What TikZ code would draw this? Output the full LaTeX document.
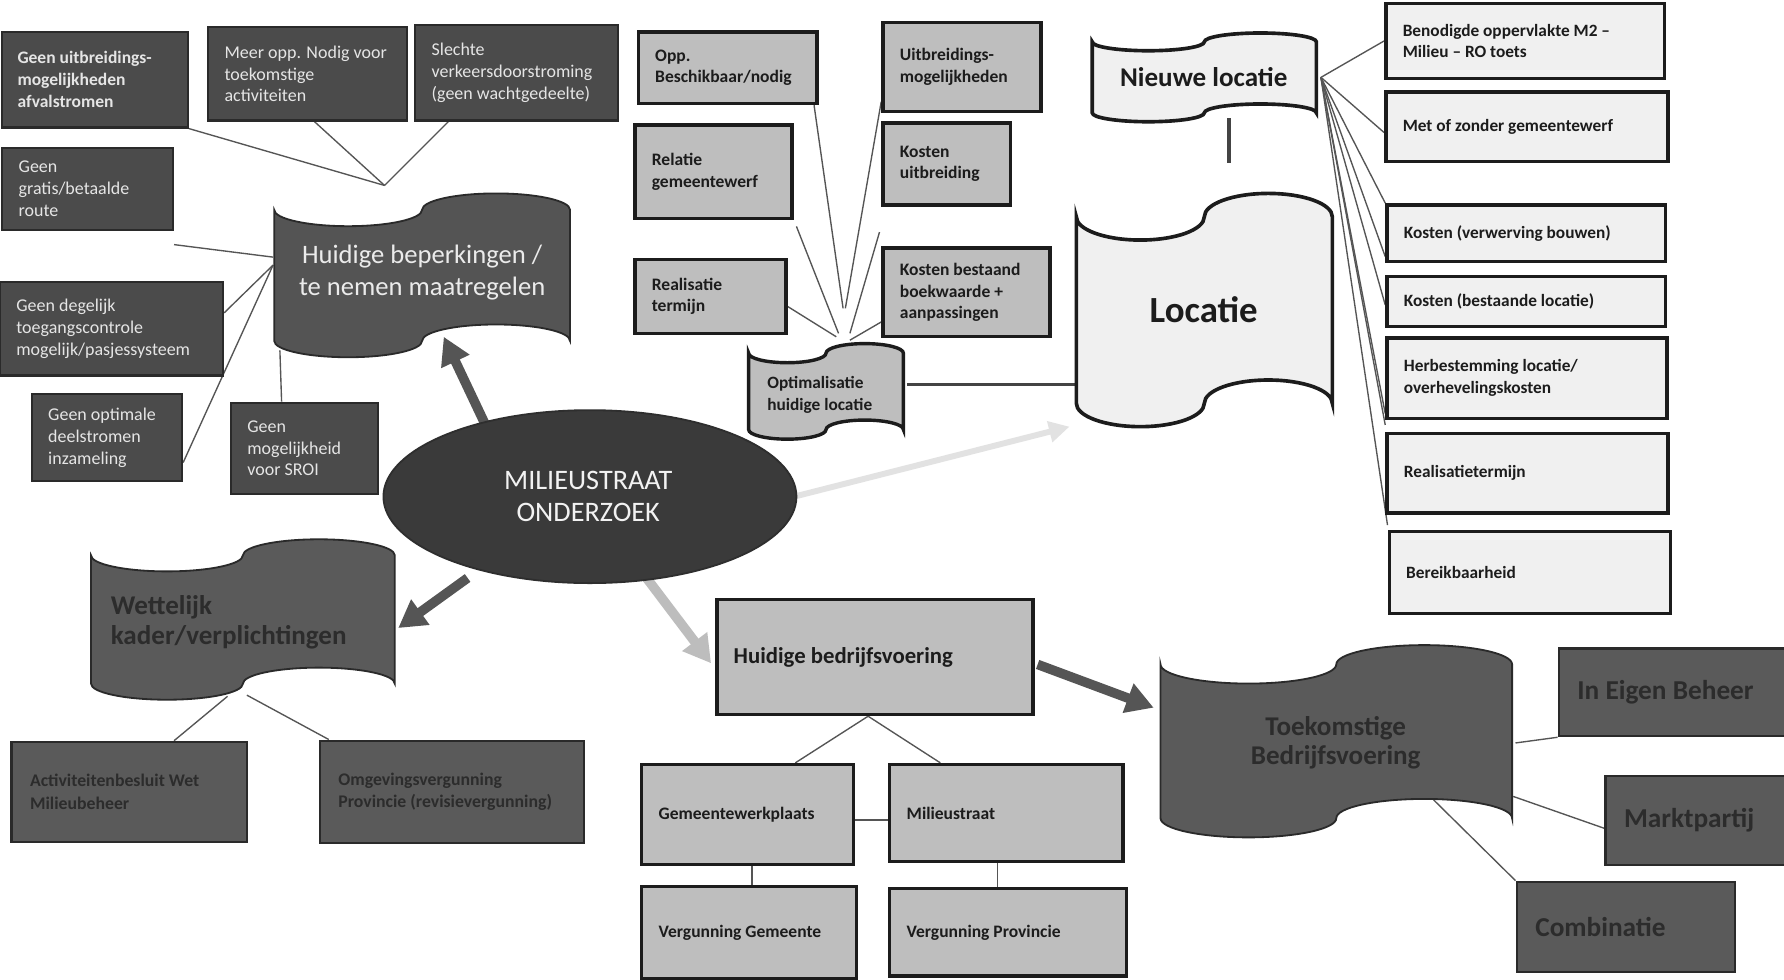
\documentclass[tikz,border=0pt]{standalone}
\usepackage{fontspec}
\setmainfont{Carlito}
\usetikzlibrary{arrows.meta,shapes.geometric}
\pgfdeclarelayer{bg}
\pgfsetlayers{bg,main}
\definecolor{dboxfill}{HTML}{4B4B4B}
\definecolor{dboxdraw}{HTML}{2A2A2A}
\definecolor{hbfill}{HTML}{545454}
\definecolor{ellfill}{HTML}{3A3A3A}
\definecolor{midfill}{HTML}{5A5A5A}
\definecolor{midtext}{HTML}{2C2C2C}
\definecolor{lfill}{HTML}{BEBEBE}
\definecolor{vlfill}{HTML}{F0F0F0}
\definecolor{ink}{HTML}{1C1C1C}
\definecolor{conncol}{HTML}{555555}
\definecolor{arrdark}{HTML}{555555}
\definecolor{arrlight}{HTML}{BDBDBD}
\definecolor{arrvlight}{HTML}{E2E2E2}

\newcommand\bx[7]{%
  \pgfmathsetmacro\mybw{(#4-#2)*0.5}%
  \pgfmathsetmacro\mybh{(#5-#3)*0.5}%
  \node[#6, minimum width=\mybw pt, minimum height=\mybh pt, inner sep=0pt] (#1) at ({(#2+#4)/2},{(#3+#5)/2}) {};%
  \node[#6txt, anchor=west, inner sep=0pt] (#1t) at (#1.west) {#7};}

\newcommand\tape[6]{%
  \pgfmathsetmacro\tqw{(#4-#2)/8}%
  \pgfmathsetmacro\tqh{(#5-#3)/20}%
  \pgfmathsetmacro\tya{#3+(#5-#3)/10}%
  \pgfmathsetmacro\tyb{#5-(#5-#3)/10}%
  \path[#6] (#2,\tya) arc[start angle=180,end angle=360,x radius=\tqw pt,y radius=\tqh pt]
    arc[start angle=180,end angle=0,x radius=\tqw pt,y radius=\tqh pt]
    -- (#4,\tyb) arc[start angle=0,end angle=180,x radius=\tqw pt,y radius=\tqh pt]
    arc[start angle=0,end angle=-180,x radius=\tqw pt,y radius=\tqh pt] -- cycle;
  \coordinate (#1) at ({(#2+#4)/2},{(#3+#5)/2});}

\tikzset{
  dbox/.style={draw=dboxdraw, line width=1pt, fill=dboxfill},
  dboxb/.style={dbox},
  dboxtxt/.style={text=white!90!black, font=\fontsize{7.9}{9.6}\selectfont, align=left, xshift=7.5pt},
  dboxbtxt/.style={text=white!90!black, font=\fontsize{7.7}{9.6}\selectfont\bfseries, align=left, xshift=7pt},
  lbox/.style={draw=ink, line width=1.5pt, fill=lfill},
  lboxtxt/.style={text=ink, font=\fontsize{7.7}{9.6}\selectfont\bfseries, align=left, xshift=8pt},
  lboxbig/.style={lbox},
  lboxbigtxt/.style={lboxtxt, font=\fontsize{10}{12}\selectfont\bfseries},
  lboxm/.style={lbox},
  lboxmtxt/.style={lboxtxt},
  rbox/.style={draw=ink, line width=1.5pt, fill=vlfill},
  rboxtxt/.style={text=ink, font=\fontsize{7.6}{9.6}\selectfont\bfseries, align=left, xshift=8pt},
  gbox/.style={draw=dboxdraw, line width=1pt, fill=midfill},
  gboxtxt/.style={text=midtext, font=\fontsize{7.8}{10}\selectfont\bfseries, align=left, xshift=8.5pt},
  gboxbig/.style={gbox},
  gboxbigtxt/.style={gboxtxt, font=\fontsize{12}{14}\selectfont\bfseries},
  tapedark/.style={fill=hbfill, draw=dboxdraw, line width=0.8pt},
  tapemid/.style={fill=midfill, draw=dboxdraw, line width=0.8pt},
  tapelight/.style={fill=lfill, draw=ink, line width=1.5pt},
  tapevlight/.style={fill=vlfill, draw=ink, line width=1.6pt},
  conn/.style={draw=conncol, line width=0.6pt},
  thickconn/.style={draw=conncol!80!black, line width=1.6pt},
  bigarrow/.style={line width=4.2pt, -{Triangle[length=12pt,width=13pt]}},
}

\begin{document}
\begin{tikzpicture}[x=0.5pt,y=-0.5pt]
\useasboundingbox (0,0) rectangle (1568,861);
\begin{pgfonlayer}{bg}
\fill[white] (0,0) rectangle (1568,861);
\end{pgfonlayer}

% ---------- top-left dark boxes
\bx{a1}{2}{28}{165}{112}{dboxb}{Geen uitbreidings-\\mogelijkheden\\afvalstromen}
\bx{a2}{183}{24}{358}{106}{dbox}{Meer opp. Nodig voor\\toekomstige\\activiteiten}
\bx{a3}{365}{22}{543}{106}{dbox}{Slechte\\verkeersdoorstroming\\(geen wachtgedeelte)}
\bx{a4}{2}{130}{152}{202}{dbox}{Geen\\gratis/betaalde\\route}
\bx{a5}{0}{248}{196}{330}{dbox}{Geen degelijk\\toegangscontrole\\mogelijk/pasjessysteem}
\bx{a6}{28}{346}{160}{423}{dbox}{Geen optimale\\deelstromen\\inzameling}
\bx{a7}{203}{354}{332}{434}{dbox}{Geen\\mogelijkheid\\voor SROI}

% ---------- tapes
\tape{hb}{241}{170}{501}{314}{tapedark}
\tape{wk}{80}{474}{347}{615}{tapemid}
\tape{tb}{1020}{567}{1329}{736}{tapemid}
\tape{op}{658}{302}{794}{386}{tapelight}
\tape{nl}{960}{29}{1157}{107}{tapevlight}
\tape{lo}{946}{170}{1171}{375}{tapevlight}

\node[font=\fontsize{11.7}{14}\selectfont, text=white!92!black, align=center, inner sep=0pt] (hbt) at (371,239.5) {Huidige beperkingen /\\te nemen maatregelen};
\node[font=\fontsize{11.9}{13.5}\selectfont\bfseries, text=midtext, align=left, anchor=west, inner sep=0pt] (wkt) at (97,547) {Wettelijk\\kader/verplichtingen};
\node[font=\fontsize{11.9}{13}\selectfont\bfseries, text=midtext, align=center, inner sep=0pt] (tbt) at (1174,653) {Toekomstige\\Bedrijfsvoering};
\node[font=\fontsize{7.6}{9.7}\selectfont\bfseries, text=ink, align=left, anchor=west, inner sep=0pt] (opt) at (674,347) {Optimalisatie\\huidige locatie};
\node[font=\fontsize{11.9}{14}\selectfont\bfseries, text=ink, inner sep=0pt] (nlt) at (1058,68) {Nieuwe locatie};
\node[font=\fontsize{16.2}{19}\selectfont\bfseries, text=ink, inner sep=0pt] (lot) at (1058,272.5) {Locatie};

% ---------- ellipse
\node[ellipse, fill=ellfill, draw=ellfill!80!black, line width=0.8pt, minimum width=181.5pt, minimum height=76pt, inner sep=0pt] (ms) at (518.5,436.5) {};
\node[font=\fontsize{12.4}{14}\selectfont, text=white!95!black, align=center, inner sep=0pt] (mst) at (517,436) {MILIEUSTRAAT\\ONDERZOEK};

% ---------- middle light boxes
\bx{m1}{561}{28}{718}{91}{lbox}{Opp.\\Beschikbaar/nodig}
\bx{m2}{776}{20}{915}{98}{lbox}{Uitbreidings-\\mogelijkheden}
\bx{m3}{558}{110}{696}{192}{lbox}{Relatie\\gemeentewerf}
\bx{m4}{776}{108}{888}{180}{lbox}{Kosten\\uitbreiding}
\bx{m5}{558}{228}{691}{293}{lbox}{Realisatie\\termijn}
\bx{m6}{776}{218}{923}{296}{lbox}{Kosten bestaand\\boekwaarde +\\aanpassingen}

% ---------- right boxes
\bx{r1}{1218}{3}{1463}{69}{rbox}{Benodigde oppervlakte M2 –\\Milieu – RO toets}
\bx{r2}{1218}{81}{1466}{142}{rbox}{Met of zonder gemeentewerf}
\bx{r3}{1219}{180}{1464}{230}{rbox}{Kosten (verwerving bouwen)}
\bx{r4}{1219}{243}{1464}{287}{rbox}{Kosten (bestaande locatie)}
\bx{r5}{1219}{297}{1465}{368}{rbox}{Herbestemming locatie/\\overhevelingskosten}
\bx{r6}{1219}{381}{1466}{451}{rbox}{Realisatietermijn}
\bx{r7}{1221}{467}{1468}{539}{rbox}{Bereikbaarheid}

% ---------- bottom middle
\bx{hbf}{630}{527}{908}{628}{lboxbig}{Huidige bedrijfsvoering}
\bx{g1}{564}{672}{750}{760}{lboxm}{Gemeentewerkplaats}
\bx{g2}{782}{672}{987}{757}{lboxm}{Milieustraat}
\bx{v1}{564}{779}{753}{860}{lboxm}{Vergunning Gemeente}
\bx{v2}{782}{781}{990}{858}{lboxm}{Vergunning Provincie}

% ---------- bottom left
\bx{w1}{10}{652}{217}{740}{gbox}{Activiteitenbesluit Wet\\Milieubeheer}
\bx{w2}{281}{651}{513}{741}{gbox}{Omgevingsvergunning\\Provincie (revisievergunning)}

% ---------- bottom right
\bx{ieb}{1370}{570}{1580}{647}{gboxbig}{In Eigen Beheer}
\bx{mp}{1411}{682}{1580}{760}{gboxbig}{Marktpartij}
\bx{cb}{1333}{775}{1525}{854}{gboxbig}{Combinatie}

% ---------- connectors (behind)
\begin{pgfonlayer}{bg}
\coordinate (hbtop) at (338,163);
\coordinate (hbl) at (240,233);
\coordinate (hbl2) at (240,226);
\coordinate (hbbot) at (246,308);
\draw[conn] (a1.south east) -- (hbtop);
\draw[conn] ([xshift=3pt]a2.south) -- (hbtop);
\draw[conn] ([xshift=15pt]a3.south west) -- (hbtop);
\draw[conn] ([yshift=-6pt]a4.south east) -- (hbl2);
\draw[conn] ([yshift=7pt]a5.east) -- (hbl);
\draw[conn] ([yshift=-11pt]a6.east) -- (hbl);
\draw[conn] (hbbot) -- ([xshift=-10pt]a7.north);

\coordinate (f1) at (741,271);
\coordinate (f2) at (743,271);
\coordinate (f3) at (737,293);
\coordinate (f4) at (747,293);
\coordinate (f5) at (735,296);
\coordinate (f6) at (747,299);
\coordinate (m3x) at (700,199);
\coordinate (m4x) at (773,204);
\draw[conn] ([xshift=-2pt]m1.south east) -- (f1);
\draw[conn] ([yshift=5pt]m2.south west) -- (f2);
\draw[conn] (m3x) -- (f3);
\draw[conn] (m4x) -- (f4);
\draw[conn] ([yshift=-4.5pt]m5.east) -- (f5);
\draw[conn] ([yshift=-13pt]m6.west) -- (f6);

\coordinate (opr) at (797,338);
\coordinate (lol) at (946,338);
\draw[thickconn] (opr) -- (lol);
\coordinate (nlb) at (1080,104);
\coordinate (lotop) at (1080,143);
\draw[thickconn, line width=2pt] (nlb) -- (lotop);

\coordinate (nlr) at (1161,68);
\draw[conn] (nlr) -- (r1.west);
\draw[conn] (nlr) -- ([yshift=-2.5pt]r2.west);
\draw[conn] (nlr) -- (r3.north west);
\draw[conn] (nlr) -- ([yshift=3pt]r3.south west);
\draw[conn] (nlr) -- ([yshift=-1.5pt]r4.west);
\draw[conn] (nlr) -- ([yshift=3pt]r5.south west);
\draw[conn] (nlr) -- ([yshift=3pt]r6.north west);
\draw[conn] (nlr) -- ([yshift=2pt]r7.north west);

\draw[conn] ([xshift=-3pt]hbf.south) -- ([xshift=21pt]g1.north);
\draw[conn] ([xshift=-3pt]hbf.south) -- ([xshift=-29pt]g2.north);
\coordinate (gl) at ([yshift=-2.3pt]g1.east);
\draw[conn] (gl) -- (gl -| g2.west);
\coordinate (g1b) at ([xshift=2pt]g1.south);
\draw[conn] (g1b) -- (g1b |- v1.north);
\coordinate (g2b) at ([xshift=-4pt]g2.south);
\draw[conn] (g2b) -- (g2b |- v2.north);

\coordinate (wkb1) at (200,612);
\coordinate (wkb2) at (217,611);
\draw[conn] (wkb1) -- ([xshift=19.75pt]w1.north);
\draw[conn] (wkb2) -- ([xshift=4.5pt]w2.north west);

\coordinate (tbr1) at (1332,653);
\coordinate (tbr2) at (1330,700);
\coordinate (tbb) at (1260,703);
\draw[conn] (tbr1) -- (ieb.south west);
\draw[conn] (tbr2) -- ([yshift=-3.5pt]mp.west);
\draw[conn] (tbb) -- (cb.north west);

% arrows
\coordinate (ar1s) at (426,372);
\coordinate (ar1e) at (390,296);
\coordinate (ar2s) at (411,508);
\coordinate (ar2e) at (350,552);
\coordinate (ar3s) at (566,505);
\coordinate (ar3e) at (625,583);
\coordinate (ar4s) at (912,584);
\coordinate (ar4e) at (1014,622);
\coordinate (ar5s) at (700,436);
\coordinate (ar5e) at (940,375);
\draw[bigarrow, draw=arrdark] (ar1s) -- (ar1e);
\draw[bigarrow, draw=arrdark] (ar2s) -- (ar2e);
\draw[bigarrow, draw=arrlight] (ar3s) -- (ar3e);
\draw[bigarrow, draw=arrdark] (ar4s) -- (ar4e);
\draw[line width=2.6pt, draw=arrvlight, -{Triangle[length=9pt,width=9pt]}] (ar5s) -- (ar5e);
\end{pgfonlayer}
\end{tikzpicture}
\end{document}
